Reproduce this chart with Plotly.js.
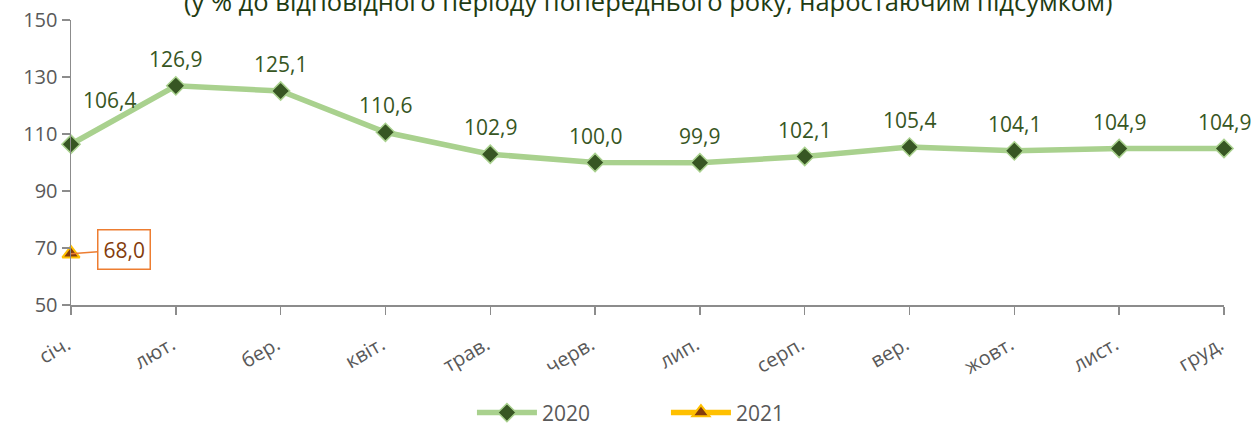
<!DOCTYPE html>
<html><head><meta charset="utf-8">
<script src="https://cdn.plot.ly/plotly-3.0.1.min.js"></script>
<style>html,body{margin:0;padding:0;background:#fff}#c{width:1259px;height:427px}</style>
</head><body><div id="c"></div>
<script>
const months = ["січ.","лют.","бер.","квіт.","трав.","черв.","лип.","серп.","вер.","жовт.","лист.","груд."];
const values2020 = [106.4,126.9,125.1,110.6,102.9,100.0,99.9,102.1,105.4,104.1,104.9,104.9];
const months2021 = ["січ."];
const values2021 = [68.0];
const titleText = "(у % до відповідного періоду попереднього року, наростаючим підсумком)";
const yTicks = [50,70,90,110,130,150];

const fmt = v => v.toFixed(1).replace('.', ',');
const FONT = "Open Sans, Noto Sans, sans-serif";

const traces = [
  {x: months, y: values2020, name: "2020", type: "scatter", mode: "lines+markers", cliponaxis: false,
   line: {color: "#a9d18e", width: 5.5},
   marker: {symbol: "diamond", size: 14, color: "#375623", line: {color: "#a9d18e", width: 1.5}}},
  {x: months2021, y: values2021, name: "2021", type: "scatter", mode: "lines+markers", cliponaxis: false,
   line: {color: "#ffc000", width: 5.5},
   marker: {symbol: "triangle-up", size: 15, color: "#843c0c", line: {color: "#ffc000", width: 2}}}
];

const annotations = values2020.map((v, i) => ({
  x: months[i], y: v, xref: "x", yref: "y", text: fmt(v), showarrow: false,
  yshift: i === 0 ? 44 : 27, xshift: i === 0 ? 38 : 0,
  font: {family: FONT, size: 21, color: "#375623"}
}));
values2021.forEach((v, i) => annotations.push({
  x: months2021[i], y: v, xref: "x", yref: "y", text: fmt(v),
  showarrow: true, arrowhead: 0, arrowwidth: 1.5, arrowcolor: "#ed7d31",
  ax: 53, ay: -4, standoff: 0,
  bordercolor: "#ed7d31", borderwidth: 1.5, borderpad: 5, bgcolor: "#fff",
  font: {family: FONT, size: 21, color: "#843c0c"}
}));
annotations.push({
  xref: "paper", yref: "paper", x: 0.5, y: 1, yanchor: "middle", yshift: 19,
  text: titleText, showarrow: false,
  font: {family: FONT, size: 25.5, color: "#1e3b12"}
});

const layout = {
  width: 1259, height: 427,
  margin: {l: 71, r: 35, t: 20, b: 122},
  paper_bgcolor: "#fff", plot_bgcolor: "#fff",
  showlegend: true,
  legend: {orientation: "h", x: 0.516, xanchor: "center", yref: "container", y: 0.033, yanchor: "middle",
           font: {family: FONT, size: 21, color: "#595959"}, itemwidth: 60,
           entrywidth: 119, entrywidthmode: "pixels"},
  xaxis: {type: "category", categoryorder: "array", categoryarray: months, range: [0, 11],
          automargin: false,
          showgrid: false, zeroline: false, showline: true, linecolor: "#8c8c8c", linewidth: 1.5,
          ticks: "outside", ticklen: 8, tickcolor: "#8c8c8c", tickwidth: 1.5, tickangle: -30,
          ticklabelstandoff: 11, ticklabelshift: -4,
          tickfont: {family: FONT, size: 20, color: "#595959"}},
  yaxis: {range: [50, 150], tickvals: yTicks, showgrid: false, zeroline: false, automargin: false,
          showline: true, linecolor: "#8c8c8c", linewidth: 1.5,
          ticks: "outside", ticklen: 8, tickcolor: "#8c8c8c", tickwidth: 1.5,
          tickfont: {family: FONT, size: 20, color: "#595959"}},
  annotations: annotations
};
Plotly.newPlot("c", traces, layout, {displayModeBar: false, staticPlot: true});
</script></body></html>
